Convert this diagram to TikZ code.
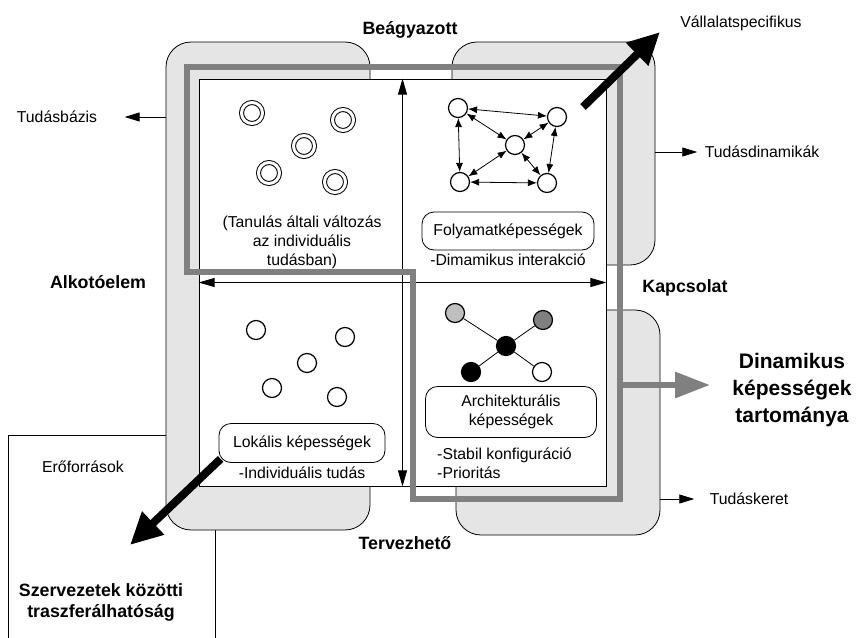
\documentclass[tikz,border=0pt]{standalone}
\usepackage{fontspec}
\setmainfont{Liberation Sans}
\usetikzlibrary{arrows.meta,positioning}
\tikzset{region/.style={draw,rounded corners=25pt,fill=gray!20,line width=0.8pt},capbox/.style={draw,rounded corners=12pt,align=center,fill=white,line width=0.8pt},ring/.style={draw,circle,double,double distance=3pt,line width=1pt,minimum size=21pt,inner sep=0pt},dot/.style={draw,circle,line width=1.2pt,minimum size=19pt,inner sep=0pt,fill=white},arrow/.style={-{Triangle[length=15pt,width=9pt]},line width=0.8pt},twoway/.style={{Triangle[length=16pt,width=9pt]}-{Triangle[length=16pt,width=9pt]},line width=0.8pt},link/.style={{Latex[length=9pt,width=7pt]}-{Latex[length=9pt,width=7pt]},line width=0.8pt},fat/.style={-{Triangle[length=32pt,width=30pt]},line width=8pt},heading/.style={font=\fontsize{17.8pt}{21pt}\selectfont\bfseries,align=center}}

\begin{document}
\begin{tikzpicture}[x=1pt,y=-1pt,font=\fontsize{15.8pt}{19pt}\selectfont]
\useasboundingbox (0,0) rectangle (858,637);
% resources frame behind everything
\draw[line width=0.8pt] (8,640) |- (215,435) -- (215,640);
\node[region,minimum width=204pt,minimum height=488pt] (base) at (268,286) {};
\node[region,minimum width=203pt,minimum height=223pt] (flow) at (553.5,153.5) {};
\node[region,minimum width=204pt,minimum height=225pt] (frame) at (558,422.5) {};
\node[draw,fill=white,minimum size=407pt,inner sep=0pt,line width=0.8pt] (square) at (402.5,282.5) {};
\draw[twoway] (square.south) -- (square.north);
\draw[twoway] (square.west) -- (square.east);

% top left: learning
\foreach \p [count=\i] in {(252,113),(343,120),(304,146),(269,173),(335,182)}
  \node[ring] (r\i) at \p {};
\node[align=center] (learn) at (302,242) {(Tanulás általi változás\\az individuális\\tudásban)};

% top right: process network
\node[dot] (na) at (458,108) {};
\node[dot] (nb) at (557,117) {};
\node[dot] (nc) at (515,145) {};
\node[dot] (nd) at (460,182) {};
\node[dot] (ne) at (547,183) {};
\foreach \a/\b in {na/nb,na/nc,na/nd,nb/nc,nb/ne,nc/nd,nc/ne,nd/ne}
  \draw[link] (\a) -- (\b);
\node[capbox,minimum width=172pt,minimum height=38pt] (proc) at (508,231) {Folyamatképességek};
\node[below=0pt of proc] (procnote) {-Dimamikus interakció};

% bottom left: local
\foreach \p [count=\i] in {(256,330),(345,337),(307,363),(272,388),(337,397)}
  \node[dot] (s\i) at \p {};
\node[capbox,minimum width=166pt,minimum height=39pt] (local) at (302,443) {Lokális képességek};
\node[below=0pt of local] (localnote) {-Individuális tudás};

% bottom right: architecture
\node[dot,fill=black] (hub) at (506,346) {};
\node[dot,fill=gray!50] (g1) at (455,313) {};
\node[dot,fill=gray] (g2) at (543,320) {};
\node[dot,fill=black] (g3) at (471,372) {};
\node[dot] (g4) at (542,372) {};
\foreach \n in {g1,g2,g3,g4}
  \draw[line width=0.8pt] (hub) -- (\n);
\node[capbox,minimum width=171pt,minimum height=51pt] (arch) at (511,412) {Architekturális\\képességek};
\node[align=left,anchor=west] (archnote) at (433.7,463.5) {-Stabil konfiguráció\\-Prioritás};

% dynamic capability domain
\draw[line width=6pt,gray] (187,67) -- (620,67) -- (620,499) -- (413,499) -- (413,272) -- (187,272) -- cycle;
\coordinate (rim) at (620,385);
\coordinate (tip) at (710,385);
\draw[gray,line width=6pt,-{Triangle[length=35pt,width=25pt]}] (rim) -- (tip);
\node[font=\fontsize{21pt}{27pt}\selectfont\bfseries,align=center] (dyn) at (792,390) {Dinamikus\\képességek\\tartománya};

% side labels
\node (tb) at (57,117) {Tudásbázis};
\draw[arrow,shorten >=24pt] (base.west |- tb) -- (tb.east);
\node (td) at (762,152) {Tudásdinamikák};
\draw[arrow,shorten >=4pt] (flow.east |- td) -- (td.west);
\node (tk) at (749,499) {Tudáskeret};
\draw[arrow,shorten >=12pt] (frame.east |- tk) -- (tk.west);
\node (spec) at (741,23) {Vállalatspecifikus};
\node (res) at (83,467) {Erőforrások};
\node[heading] (emb) at (410,30) {Beágyazott};
\node[heading] (comp) at (98,282) {Alkotóelem};
\node[heading] (conn) at (685,288) {Kapcsolat};
\node[heading] (des) at (405,543) {Tervezhető};
\node[heading] (trans) at (101,602) {Szervezetek közötti\\traszferálhatóság};

% thick black arrows
\coordinate (nefrom) at (583,107);
\coordinate (neto) at (660,32);
\draw[fat] (nefrom) -- (neto);
\coordinate (swto) at (130,545);
\draw[fat] ([shift={(2,-4)}]local.south west) -- (swto);
\end{tikzpicture}
\end{document}
